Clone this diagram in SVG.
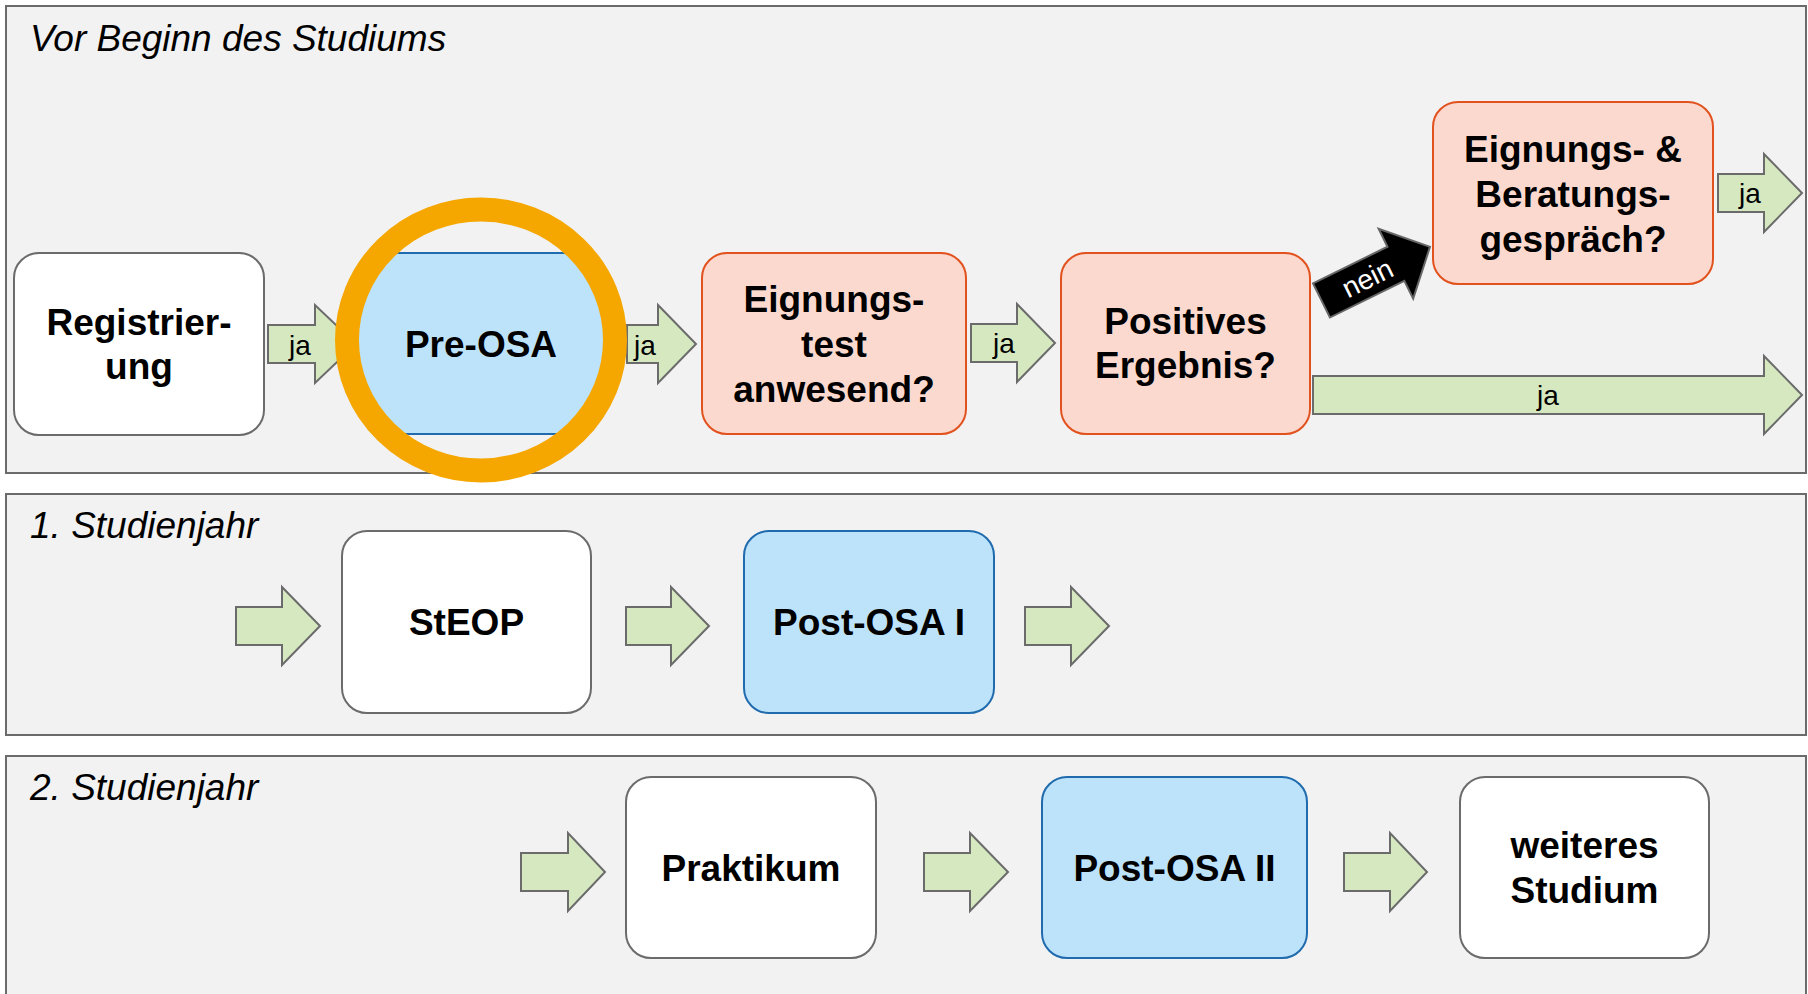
<svg xmlns="http://www.w3.org/2000/svg" width="1808" height="994" viewBox="0 0 1808 994">
<defs>
<style>
.panel{fill:#F2F2F2;stroke:#6b6b6b;stroke-width:2}
.plabel{font-family:"Liberation Sans",Arial,sans-serif;font-style:italic;font-size:37px;fill:#000}
.white{fill:#FFFFFF;stroke:#6b6b6b;stroke-width:2}
.salmon{fill:#FBD9CF;stroke:#E2521E;stroke-width:2}
.blue{fill:#BDE3FB;stroke:#1F6BAE;stroke-width:2}
.ntext{font-family:"Liberation Sans",Arial,sans-serif;font-weight:bold;font-size:37px;fill:#000;text-anchor:middle}
.arr{fill:#D5E8C0;stroke:#6b6b6b;stroke-width:2;stroke-linejoin:miter}
.atext{font-family:"Liberation Sans",Arial,sans-serif;font-size:28px;fill:#000;text-anchor:middle}
</style>
</defs>
<rect width="1808" height="994" fill="#FFFFFF"/>

<g id="panel-vor-beginn">
<rect class="panel" x="6" y="6" width="1800" height="467"/>
<text class="plabel" x="30" y="51">Vor Beginn des Studiums</text>
</g>
<g id="panel-1-studienjahr">
<rect class="panel" x="6" y="494" width="1800" height="241"/>
<text class="plabel" x="30" y="538">1. Studienjahr</text>
</g>
<g id="panel-2-studienjahr">
<rect class="panel" x="6" y="756" width="1800" height="260"/>
<text class="plabel" x="30" y="800">2. Studienjahr</text>
</g>

<g id="connectors">
<path class="arr" d="M268,325 L315,325 L315,305 L356,344 L315,383 L315,363 L268,363 Z"/>
<text class="atext" x="300" y="355">ja</text>
<path class="arr" d="M627,325 L658,325 L658,305 L696,344 L658,383 L658,363 L627,363 Z"/>
<text class="atext" x="645" y="355">ja</text>
<path class="arr" d="M971,324 L1017,324 L1017,304 L1055,343 L1017,382 L1017,362 L971,362 Z"/>
<text class="atext" x="1004" y="353">ja</text>
<path class="arr" d="M1313,376 L1764,376 L1764,356 L1802,395 L1764,434 L1764,414 L1313,414 Z"/>
<text class="atext" x="1548" y="405">ja</text>
<path class="arr" d="M1718,174 L1764,174 L1764,154 L1802,193 L1764,232 L1764,212 L1718,212 Z"/>
<text class="atext" x="1750" y="203">ja</text>
<g transform="translate(1321.5,300.5) rotate(-26.3)">
<path d="M0,-19 L83,-19 L83,-39 L121,0 L83,39 L83,19 L0,19 Z" fill="#000" stroke="#666" stroke-width="2"/>
<text x="51" y="10" font-family="Liberation Sans, Arial, sans-serif" font-size="28" fill="#FFFFFF" text-anchor="middle">nein</text>
</g>
<path class="arr" d="M236,607 L282,607 L282,587 L320,626 L282,665 L282,645 L236,645 Z"/>
<path class="arr" d="M626,607 L671,607 L671,587 L709,626 L671,665 L671,645 L626,645 Z"/>
<path class="arr" d="M1025,607 L1071,607 L1071,587 L1109,626 L1071,665 L1071,645 L1025,645 Z"/>
<path class="arr" d="M521,853 L568,853 L568,833 L605,872 L568,911 L568,891 L521,891 Z"/>
<path class="arr" d="M924,853 L970,853 L970,833 L1008,872 L970,911 L970,891 L924,891 Z"/>
<path class="arr" d="M1344,853 L1390,853 L1390,833 L1427,872 L1390,911 L1390,891 L1344,891 Z"/>
</g>

<g id="node-registrierung">
<rect class="white" x="14" y="253" width="250" height="182" rx="25"/>
<text class="ntext" x="139" y="335">Registrier-</text>
<text class="ntext" x="139" y="379">ung</text>
</g>
<g id="node-pre-osa">
<rect class="blue" x="355" y="253" width="252" height="181" rx="40"/>
<text class="ntext" x="481" y="357">Pre-OSA</text>
<ellipse cx="481" cy="340" rx="134" ry="130.5" fill="none" stroke="#F5A700" stroke-width="24"/>
</g>
<g id="node-eignungstest">
<rect class="salmon" x="702" y="253" width="264" height="181" rx="25"/>
<text class="ntext" x="834" y="312">Eignungs-</text>
<text class="ntext" x="834" y="357">test</text>
<text class="ntext" x="834" y="402">anwesend?</text>
</g>
<g id="node-positives-ergebnis">
<rect class="salmon" x="1061" y="253" width="249" height="181" rx="25"/>
<text class="ntext" x="1185.5" y="334">Positives</text>
<text class="ntext" x="1185.5" y="378">Ergebnis?</text>
</g>
<g id="node-eignungsgespraech">
<rect class="salmon" x="1433" y="102" width="280" height="182" rx="25"/>
<text class="ntext" x="1573" y="162">Eignungs- &amp;</text>
<text class="ntext" x="1573" y="207">Beratungs-</text>
<text class="ntext" x="1573" y="252">gespräch?</text>
</g>
<g id="node-steop">
<rect class="white" x="342" y="531" width="249" height="182" rx="25"/>
<text class="ntext" x="466.5" y="635">StEOP</text>
</g>
<g id="node-post-osa-1">
<rect class="blue" x="744" y="531" width="250" height="182" rx="25"/>
<text class="ntext" x="869" y="635">Post-OSA I</text>
</g>
<g id="node-praktikum">
<rect class="white" x="626" y="777" width="250" height="181" rx="25"/>
<text class="ntext" x="751" y="881">Praktikum</text>
</g>
<g id="node-post-osa-2">
<rect class="blue" x="1042" y="777" width="265" height="181" rx="25"/>
<text class="ntext" x="1174.5" y="881">Post-OSA II</text>
</g>
<g id="node-weiteres-studium">
<rect class="white" x="1460" y="777" width="249" height="181" rx="25"/>
<text class="ntext" x="1584.5" y="858">weiteres</text>
<text class="ntext" x="1584.5" y="903">Studium</text>
</g>
</svg>
